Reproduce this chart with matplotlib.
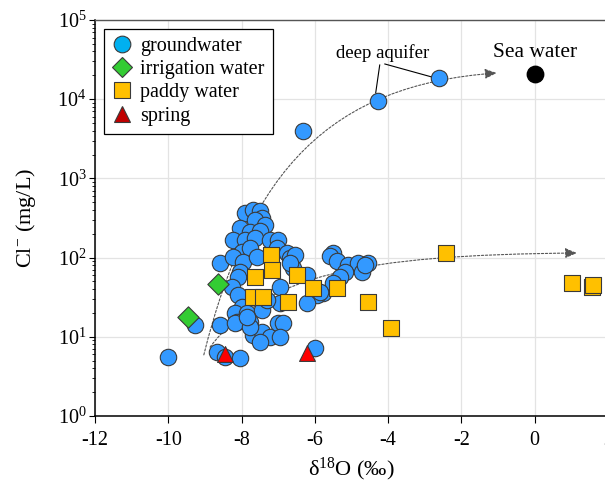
import matplotlib
matplotlib.use('Agg')
import matplotlib.pyplot as plt
from matplotlib.lines import Line2D
from matplotlib.path import Path
from matplotlib.patches import FancyArrowPatch
from matplotlib.ticker import LogLocator, LogFormatterMathtext, NullFormatter

plt.rcParams['font.family'] = ['Liberation Serif', 'DejaVu Serif']
plt.rcParams['mathtext.fontset'] = 'custom'
plt.rcParams['mathtext.rm'] = 'Liberation Serif'
plt.rcParams['mathtext.it'] = 'Liberation Serif:italic'
plt.rcParams['axes.unicode_minus'] = False

# groundwater (d18O permil, Cl mg/L)
gw_d18o = [-7.91, -7.69, -7.50, -7.45, -7.64, -8.05, -7.36, -7.77, -7.50, -8.24,
           -7.91, -7.64, -7.23, -7.01, -7.99, -7.77, -7.04, -6.76, -8.59, -8.24,
           -7.96, -7.58, -6.68, -8.05, -6.60, -8.10, -8.26, -8.10, -7.99, -8.18,
           -7.85, -8.13, -7.77, -7.45, -7.45, -6.95, -6.95, -8.59, -9.27, -7.69,
           -7.45, -7.23, -7.01, -6.87, -6.95, -7.50, -8.67, -8.45, -8.05, -10.01,
           -6.00, -8.18, -7.77, -7.31, -7.85,
           -5.51, -5.59, -5.40, -5.10, -4.83, -4.55, -5.18, -4.72, -5.32, -6.22,
           -6.55, -5.78, -5.95, -6.22, -6.68, -5.51, -5.86, -4.64,
           -6.33, -4.28, -2.62]
gw_cl = [366, 399, 387, 316, 298, 236, 258, 211, 217, 167,
         167, 177, 167, 167, 118, 132, 132, 114, 85, 102,
         88, 102, 99, 66, 74, 57, 43, 34, 24, 20,
         20, 15.4, 15.4, 26.7, 21.8, 43, 26.7, 14.1, 14.1, 10.5,
         11.5, 9.9, 14.9, 14.9, 9.9, 8.6, 6.4, 5.6, 5.4, 5.6,
         7.2, 14.9, 13.3, 29, 17.8,
         114, 105, 91, 81, 85, 85, 66, 66, 57, 60,
         108, 36, 34, 27, 85, 48, 37, 81,
         3970, 9490, 18500]

irr_d18o = [-8.65, -9.46]
irr_cl = [46, 17.8]

paddy_d18o = [-7.20, -7.17, -7.64, -6.49, -6.05, -5.40, -7.69, -7.42, -6.74, -4.55,
              -3.93, -2.43, 1.01, 1.55, 1.58]
paddy_cl = [108, 70, 57, 60, 41, 41, 32, 32, 27.5, 27.5,
            12.9, 114, 48, 43, 45]

spring_d18o = [-8.45, -6.22]
spring_cl = [6.1, 6.2]

sea_d18o = [0.0]
sea_cl = [20800]

# guide curves (cubic bezier control points in data units)
curve1_x = [-9.03, -7.77, -5.59, -1.04]
curve1_y = [5.9, 1277, 15100, 21400]
curve2_x = [-8.86, -7.36, -4.77, 1.15]
curve2_y = [7.4, 60, 108, 114]

fig = plt.figure(figsize=(6.05, 4.87), dpi=100)
ax = fig.add_axes([0.157, 0.146, 0.848, 0.813])

ec = '#3a3a3a'
ax.scatter(gw_d18o, gw_cl, s=140, marker='o', color='#3399FF', edgecolors=ec, linewidths=0.8, zorder=3)
ax.scatter(irr_d18o, irr_cl, s=118, marker='D', color='#33CC33', edgecolors=ec, linewidths=0.8, zorder=4)
ax.scatter(paddy_d18o, paddy_cl, s=140, marker='s', color='#FFC000', edgecolors=ec, linewidths=0.8, zorder=5)
ax.scatter(spring_d18o, spring_cl, s=130, marker='^', color='#FF0000', edgecolors=ec, linewidths=0.8, zorder=6)
ax.scatter(sea_d18o, sea_cl, s=140, marker='o', color='black', zorder=6)

codes = [Path.MOVETO, Path.CURVE4, Path.CURVE4, Path.CURVE4]
for cx, cy in [(curve1_x, curve1_y), (curve2_x, curve2_y)]:
    p = Path(list(zip(cx, cy)), codes)
    arr = FancyArrowPatch(path=p, arrowstyle='-|>,head_length=7,head_width=3',
                          mutation_scale=1, color='#555555', lw=0.8,
                          linestyle=(0, (2, 1.6)), transform=ax.transData, zorder=2)
    ax.add_patch(arr)

ax.text(-4.16, 38300, 'deep aquifer', ha='center', va='center', fontsize=13.5)
ax.plot([-4.23, -4.34], [27000, 11970], color='black', lw=0.8)
ax.plot([-4.09, -2.81], [27800, 19060], color='black', lw=0.8)
ax.text(0.0, 38300, 'Sea water', ha='center', va='center', fontsize=15.5)

ax.set_yscale('log')
ax.set_xlim(-12, 2)
ax.set_ylim(1, 1e5)
ax.set_xticks(range(-12, 3, 2))
ax.yaxis.set_major_locator(LogLocator(base=10, numticks=10))
ax.yaxis.set_minor_locator(LogLocator(base=10, subs=range(2, 10), numticks=20))
ax.yaxis.set_minor_formatter(NullFormatter())
ax.yaxis.set_major_formatter(LogFormatterMathtext())
ax.tick_params(axis='x', which='major', direction='out', length=5, width=0.8, pad=6, labelsize=14.5)
ax.tick_params(axis='y', which='major', direction='out', length=4, width=0.8, pad=2, labelsize=14.5)
ax.tick_params(axis='y', which='minor', direction='out', length=2.5, width=0.6)
ax.grid(True, which='major', color='#e3e3e3', linewidth=0.9, zorder=0)
ax.set_axisbelow(True)

for side in ['left', 'bottom']:
    ax.spines[side].set_linewidth(1.1)
    ax.spines[side].set_color('black')
for side in ['top', 'right']:
    ax.spines[side].set_linewidth(1.0)
    ax.spines[side].set_color('#555555')

ax.set_xlabel('δ$^{18}$O (‰)', fontsize=16)
ax.set_ylabel('Cl$^{-}$ (mg/L)', fontsize=16, labelpad=14)

handles = [
    Line2D([], [], linestyle='none', marker='o', markersize=12, markerfacecolor='#00B0F0', markeredgecolor=ec, markeredgewidth=0.8),
    Line2D([], [], linestyle='none', marker='D', markersize=10.5, markerfacecolor='#33CC33', markeredgecolor=ec, markeredgewidth=0.8),
    Line2D([], [], linestyle='none', marker='s', markersize=11.5, markerfacecolor='#FFC000', markeredgecolor=ec, markeredgewidth=0.8),
    Line2D([], [], linestyle='none', marker='^', markersize=12, markerfacecolor='#C00000', markeredgecolor=ec, markeredgewidth=0.8),
]
labels = ['groundwater', 'irrigation water', 'paddy water', 'spring']
leg = ax.legend(handles, labels, loc='upper left', fontsize=14.5, frameon=True, fancybox=False,
                edgecolor='black', framealpha=1, borderaxespad=0.45, handlelength=1.0,
                handletextpad=0.4, labelspacing=0.2, borderpad=0.4)
leg.get_frame().set_linewidth(0.9)

fig.savefig('out.png', dpi=100)
